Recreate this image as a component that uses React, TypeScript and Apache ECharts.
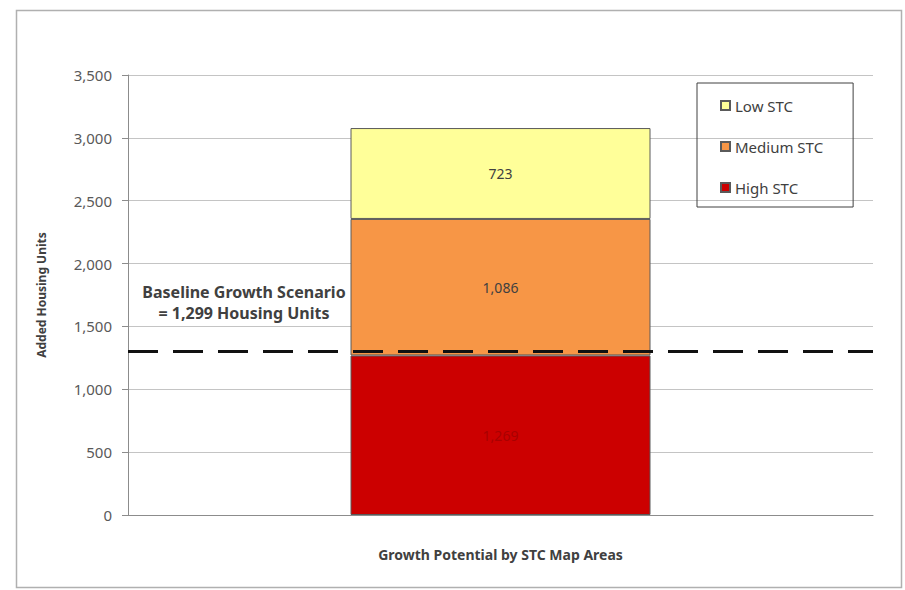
import React, { useEffect, useRef } from "react";
import * as echarts from "echarts";

const categories = ["STC Map Areas"];
const seriesNames = ["High STC", "Medium STC", "Low STC"];
const highSTC = [1269];
const mediumSTC = [1086];
const lowSTC = [723];
const baselineValue = 1299;
const baselineText = ["Baseline Growth Scenario", "= 1,299 Housing Units"];
const yMin = 0;
const yMax = 3500;
const yInterval = 500;

const FONT = "'Noto Sans', 'Open Sans', sans-serif";

export default function App() {
  const ref = useRef<HTMLDivElement>(null);
  useEffect(() => {
    if (!ref.current) return;
    const chart = echarts.init(ref.current, null, { renderer: "svg" });
    const fmt = (v: number) => v.toLocaleString("en-US");
    const labelBase = {
      show: true,
      position: "inside" as const,
      fontFamily: FONT,
      fontSize: 14,
      formatter: (p: any) => fmt(p.value),
    };
    chart.setOption({
      animation: false,
      backgroundColor: "#ffffff",
      textStyle: { fontFamily: FONT },
      grid: { left: 128, right: 32, top: 75, bottom: 75, containLabel: false },
      legend: {
        data: ["Low STC", "Medium STC", "High STC"],
        orient: "vertical",
        left: 697,
        top: 83,
        padding: [15, 30, 12, 23],
        itemGap: 26,
        itemWidth: 9,
        itemHeight: 9,
        icon: "rect",
        borderColor: "#404040",
        borderWidth: 1,
        textStyle: { fontFamily: FONT, fontSize: 15, color: "#404040" },
      },
      xAxis: {
        type: "category",
        data: categories,
        name: "Growth Potential by STC Map Areas",
        nameLocation: "middle",
        nameGap: 32,
        nameTextStyle: { fontFamily: FONT, fontSize: 14, fontWeight: "bold", color: "#404040" },
        axisLabel: { show: false },
        axisTick: { show: false },
        axisLine: { lineStyle: { color: "#8c8c8c" } },
      },
      yAxis: {
        type: "value",
        min: yMin,
        max: yMax,
        interval: yInterval,
        name: "Added Housing Units",
        nameLocation: "middle",
        nameGap: 81,
        nameTextStyle: { fontFamily: FONT, fontSize: 12, fontWeight: "bold", color: "#404040" },
        axisLine: { show: true, lineStyle: { color: "#8c8c8c" } },
        axisTick: { show: true, length: 6, lineStyle: { color: "#8c8c8c" } },
        axisLabel: {
          fontFamily: FONT,
          fontSize: 15,
          color: "#595959",
          margin: 16,
          formatter: (v: number) => fmt(v),
        },
        splitLine: { lineStyle: { color: "#c4c4c4" } },
      },
      series: [
        {
          name: seriesNames[0],
          type: "bar",
          stack: "total",
          barWidth: 300,
          data: highSTC,
          itemStyle: { color: "#cc0000", borderColor: "#5a5a5a", borderWidth: 1 },
          label: { ...labelBase, color: "#a80000" },
          markLine: {
            symbol: "none",
            silent: true,
            label: { show: false },
            lineStyle: { color: "#111111", width: 3, type: [30, 15] },
            data: [{ yAxis: baselineValue }],
          },
        },
        {
          name: seriesNames[1],
          type: "bar",
          stack: "total",
          barWidth: 300,
          data: mediumSTC,
          itemStyle: { color: "#f79646", borderColor: "#5a5a5a", borderWidth: 1 },
          label: { ...labelBase, color: "#404040" },
        },
        {
          name: seriesNames[2],
          type: "bar",
          stack: "total",
          barWidth: 300,
          data: lowSTC,
          itemStyle: { color: "#ffff99", borderColor: "#5a5a5a", borderWidth: 1 },
          label: { ...labelBase, color: "#404040" },
        },
      ],
      graphic: [
        {
          type: "rect",
          left: 14,
          top: 8,
          shape: { width: 885, height: 577 },
          style: { fill: "none", stroke: "#b0b0b0", lineWidth: 1.5 },
          silent: true,
        },
        {
          type: "text",
          x: 244,
          y: 281,
          style: {
            text: baselineText.join("\n"),
            fontFamily: FONT,
            fontSize: 16,
            fontWeight: "bold",
            fill: "#404040",
            align: "center",
            lineHeight: 21,
          },
        },
      ],
    });
    return () => chart.dispose();
  }, []);
  return (
    <div
      ref={ref}
      style={{ position: "absolute", left: 0, top: 0, width: 905, height: 590 }}
    />
  );
}
